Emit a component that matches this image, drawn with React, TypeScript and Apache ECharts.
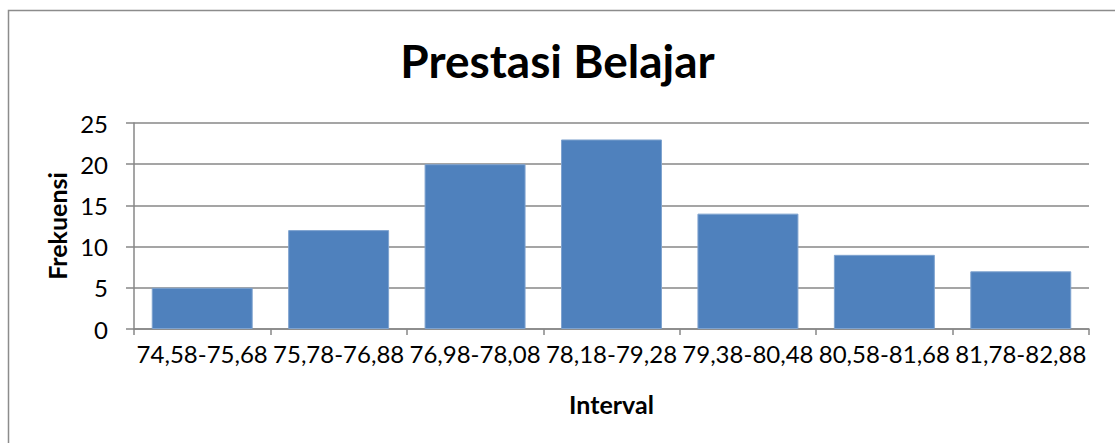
import React, { useEffect, useRef } from "react";
import * as echarts from "echarts";

const TITLE = "Prestasi Belajar";
const X_NAME = "Interval";
const Y_NAME = "Frekuensi";
const categories = [
  "74,58-75,68",
  "75,78-76,88",
  "76,98-78,08",
  "78,18-79,28",
  "79,38-80,48",
  "80,58-81,68",
  "81,78-82,88",
];
const frekuensi = [5, 12, 20, 23, 14, 9, 7];
const Y_MIN = 0;
const Y_MAX = 25;
const Y_STEP = 5;

const FONT = "Lato";
const GRID_COLOR = "#878787";

export default function App() {
  const ref = useRef<HTMLDivElement>(null);
  useEffect(() => {
    if (!ref.current) return;
    const chart = echarts.init(ref.current, undefined, { renderer: "svg" });
    chart.setOption({
      animation: false,
      backgroundColor: "#ffffff",
      title: {
        text: TITLE,
        left: "center",
        top: 32,
        textStyle: { fontFamily: FONT, fontSize: 46, fontWeight: "bold", color: "#000" },
      },
      graphic: [
        {
          type: "rect",
          shape: { x: 8.5, y: 10.5, width: 1200, height: 500 },
          style: { fill: "none", stroke: "#8c8c8c", lineWidth: 1.5 },
          silent: true,
        },
      ],
      grid: { left: 134, right: 26, top: 123, bottom: 114 },
      xAxis: {
        type: "category",
        data: categories,
        name: X_NAME,
        nameLocation: "middle",
        nameGap: 62,
        nameTextStyle: { fontFamily: FONT, fontSize: 25, fontWeight: "bold", color: "#000" },
        axisLine: { lineStyle: { color: GRID_COLOR, width: 1.5 } },
        axisTick: { show: true, length: 6, lineStyle: { color: GRID_COLOR, width: 1.5 } },
        axisLabel: { fontFamily: FONT, fontSize: 24, color: "#000", margin: 12, interval: 0 },
      },
      yAxis: {
        type: "value",
        min: Y_MIN,
        max: Y_MAX,
        interval: Y_STEP,
        name: Y_NAME,
        nameLocation: "middle",
        nameGap: 62,
        nameTextStyle: { fontFamily: FONT, fontSize: 25, fontWeight: "bold", color: "#000" },
        axisLine: { show: true, lineStyle: { color: GRID_COLOR, width: 1.5 } },
        axisTick: { show: true, length: 8, lineStyle: { color: GRID_COLOR, width: 1.5 } },
        axisLabel: { fontFamily: FONT, fontSize: 24, color: "#000", margin: 26 - 0 },
        splitLine: { show: true, lineStyle: { color: GRID_COLOR, width: 1.5 } },
      },
      series: [
        {
          type: "bar",
          data: frekuensi,
          barCategoryGap: "26%",
          itemStyle: { color: "#4F81BD", borderColor: "#7FA3CF", borderWidth: 1 },
        },
      ],
    });
    return () => chart.dispose();
  }, []);
  return (
    <div
      ref={ref}
      style={{ position: "absolute", left: 0, top: 0, width: 1115, height: 443 }}
    />
  );
}
